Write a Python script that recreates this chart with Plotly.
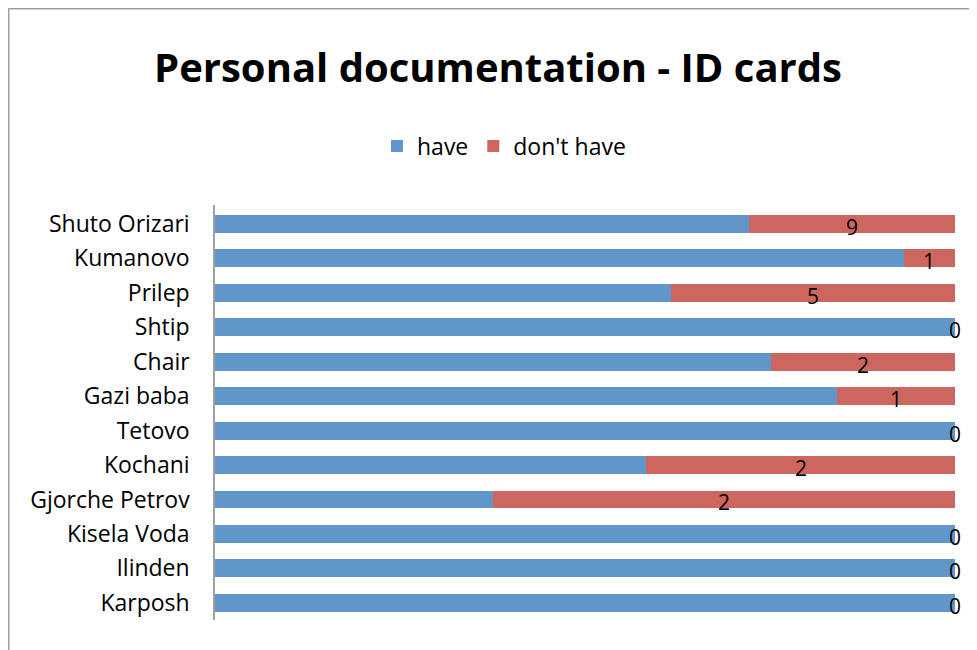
import plotly.graph_objects as go

categories = ["Shuto Orizari", "Kumanovo", "Prilep", "Shtip", "Chair", "Gazi baba",
              "Tetovo", "Kochani", "Gjorche Petrov", "Kisela Voda", "Ilinden", "Karposh"]
have_pct = [72.2, 93.1, 61.6, 100, 75.1, 84.1, 100, 58.3, 37.5, 100, 100, 100]
dont_have_pct = [100 - v for v in have_pct]
dont_have_labels = [9, 1, 5, 0, 2, 1, 0, 2, 2, 0, 0, 0]

BLUE = "#6096C9"
RED = "#CC665E"
FONT = "Open Sans"

OFF = 8  # page body margin
W, H = 977 - OFF, 650 - OFF
L = 215 - OFF
T = 205 - OFF
R = W - (955 - OFF)
B = H - (620 - OFF)
pw, ph = W - L - R, H - T - B


def px_x(p):
    return (p - OFF - L) / pw


def px_y(p):
    return 1 - (p - OFF - T) / ph


fig = go.Figure()
fig.add_trace(go.Bar(y=categories, x=have_pct, name="have", orientation="h",
                     marker=dict(color=BLUE, line=dict(width=0))))
fig.add_trace(go.Bar(y=categories, x=dont_have_pct, name="don't have", orientation="h",
                     marker=dict(color=RED, line=dict(width=0))))

annotations = []
for c, h, d, lab in zip(categories, have_pct, dont_have_pct, dont_have_labels):
    annotations.append(dict(x=h + d / 2, y=c, xref="x", yref="y", text=str(lab),
                            showarrow=False, yshift=-3,
                            font=dict(family=FONT, size=21, color="black")))

shapes = [dict(type="rect", xref="paper", yref="paper",
               x0=px_x(OFF + 0.75), x1=px_x(995), y0=px_y(670), y1=px_y(OFF + 0.75),
               line=dict(color="#A0A0A0", width=1.5), fillcolor="rgba(0,0,0,0)",
               layer="below")]

fig.update_layout(
    width=W, height=H,
    margin=dict(l=L, r=R, t=T, b=B),
    paper_bgcolor="white", plot_bgcolor="white",
    barmode="stack", bargap=0.48,
    title=dict(text="<b>Personal documentation - ID cards</b>",
               x=(498 - OFF) / W, xanchor="center",
               y=1 - (68 - OFF) / H, yanchor="middle",
               font=dict(family=FONT, size=40, color="black")),
    legend=dict(orientation="h", x=px_x(504), xanchor="center", y=px_y(146), yanchor="middle",
                font=dict(family=FONT, size=23, color="black"), traceorder="normal",
                bgcolor="rgba(0,0,0,0)"),
    xaxis=dict(range=[0, 100], visible=False, fixedrange=True),
    yaxis=dict(autorange="reversed", showline=True, linecolor="#A0A0A0", linewidth=1.5,
               ticks="", ticklabelstandoff=19, showgrid=False, zeroline=False,
               tickfont=dict(family=FONT, size=23, color="black")),
    annotations=annotations,
    shapes=shapes,
    showlegend=True,
)

fig.write_html("out.html")
